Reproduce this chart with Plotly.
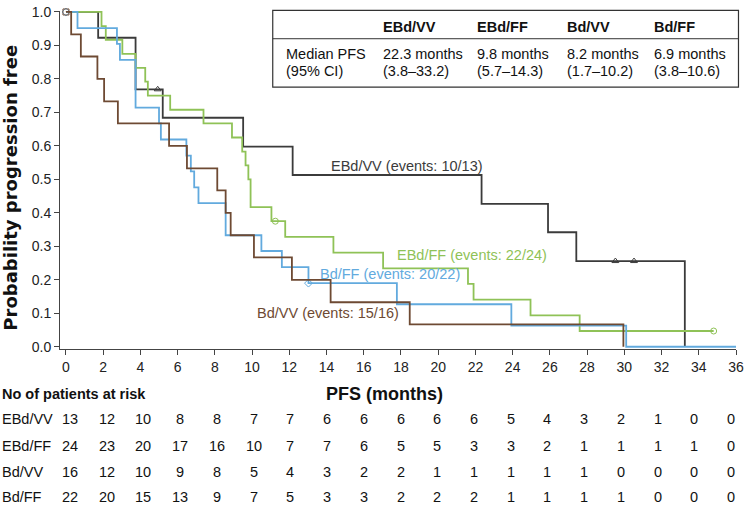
import plotly.graph_objects as go

# Kaplan-Meier steps (months, probability progression free)
ebd_vv_t = [0, 1.73, 3.74, 5.2, 9.52, 12.18, 22.33, 25.9, 27.42, 33.25]
ebd_vv_s = [1.0, 0.923, 0.769, 0.684, 0.598, 0.513, 0.427, 0.342, 0.256, 0.0]
ebd_vv_cens_t = [4.93, 29.52, 30.52]
ebd_vv_cens_s = [0.769, 0.256, 0.256]

ebd_ff_t = [0, 1.91, 2.14, 3.03, 3.74, 4.26, 4.4, 5.6, 7.39, 8.92, 9.47, 9.65, 9.8, 9.92,
            11.04, 11.78, 14.37, 17.04, 21.6, 21.9, 24.96, 27.6, 34.8]
ebd_ff_s = [1.0, 0.958, 0.917, 0.875, 0.833, 0.792, 0.75, 0.708, 0.667, 0.625, 0.583, 0.542, 0.5, 0.417,
            0.375, 0.328, 0.281, 0.234, 0.188, 0.141, 0.094, 0.047, 0.047]
ebd_ff_cens_t = [11.25, 34.8]
ebd_ff_cens_s = [0.375, 0.047]

bd_vv_t = [0, 0.28, 0.8, 1.69, 2.05, 2.79, 5.54, 6.5, 8.13, 8.58, 8.85, 10.1, 12.14, 14.22, 18.47, 29.95]
bd_vv_s = [1.0, 0.933, 0.867, 0.8, 0.733, 0.667, 0.6, 0.533, 0.467, 0.4, 0.333, 0.267, 0.2, 0.133, 0.067, 0.0]
bd_vv_cens_t = [0]
bd_vv_cens_s = [1.0]

bd_ff_t = [0, 0.62, 2.74, 2.9, 3.74, 5.0, 5.1, 6.47, 6.71, 6.89, 7.12, 8.58, 10.5, 11.6, 13.03,
           17.78, 23.93, 30.1, 36]
bd_ff_s = [1.0, 0.952, 0.905, 0.857, 0.714, 0.667, 0.619, 0.571, 0.524, 0.476, 0.429, 0.333, 0.286, 0.238, 0.19,
           0.127, 0.063, 0.0, 0.0]
bd_ff_cens_t = [0, 13.03]
bd_ff_cens_s = [1.0, 0.19]

# numbers at risk
months = list(range(0, 37, 2))
risk_ebd_vv = [13, 12, 10, 8, 8, 7, 7, 6, 6, 6, 6, 6, 5, 4, 3, 2, 1, 0, 0]
risk_ebd_ff = [24, 23, 20, 17, 16, 10, 7, 7, 6, 5, 5, 3, 3, 2, 1, 1, 1, 1, 0]
risk_bd_vv = [16, 12, 10, 9, 8, 5, 4, 3, 2, 2, 1, 1, 1, 1, 1, 0, 0, 0, 0]
risk_bd_ff = [22, 20, 15, 13, 9, 7, 5, 3, 3, 2, 2, 2, 1, 1, 1, 1, 0, 0, 0]

groups = ['EBd/VV', 'EBd/FF', 'Bd/VV', 'Bd/FF']
median_pfs = ['22.3 months', '9.8 months', '8.2 months', '6.9 months']
median_ci = ['(3.8–33.2)', '(5.7–14.3)', '(1.7–10.2)', '(3.8–10.6)']
events = ['10/13', '22/24', '15/16', '20/22']

colours = {'EBd/VV': '#3b3b3b', 'EBd/FF': '#8fc257', 'Bd/VV': '#6e4a33', 'Bd/FF': '#62aade'}
symbols = {'EBd/VV': 'triangle-up-open', 'EBd/FF': 'circle-open', 'Bd/VV': 'square-open', 'Bd/FF': 'diamond-open'}

FONT = 'Liberation Sans, Arial, sans-serif'

# plot area in pixels, used to place text outside the axes
L, R, T, B = 60, 740, 4, 349


def px(x):
    return (x - L) / (R - L)


def py(y):
    return (B - y) / (B - T)


fig = go.Figure()

curves = [
    ('EBd/VV', ebd_vv_t, ebd_vv_s, ebd_vv_cens_t, ebd_vv_cens_s),
    ('EBd/FF', ebd_ff_t, ebd_ff_s, ebd_ff_cens_t, ebd_ff_cens_s),
    ('Bd/FF', bd_ff_t, bd_ff_s, bd_ff_cens_t, bd_ff_cens_s),
    ('Bd/VV', bd_vv_t, bd_vv_s, bd_vv_cens_t, bd_vv_cens_s),
]

for name, t, s, ct, cs in curves:
    fig.add_trace(go.Scatter(x=t, y=s, mode='lines', line=dict(color=colours[name], width=1.8, shape='hv'),
                             name=name, showlegend=False, cliponaxis=False))
    fig.add_trace(go.Scatter(x=ct, y=cs, mode='markers',
                             marker=dict(symbol=symbols[name], size=6, color=colours[name],
                                         line=dict(width=1, color=colours[name])),
                             showlegend=False, cliponaxis=False))

annotations = []

# curve labels
label_pos = {'EBd/VV': (331, 162), 'EBd/FF': (397, 253), 'Bd/FF': (320, 272), 'Bd/VV': (256, 312)}
for g, ev in zip(groups, events):
    x0, y0 = label_pos[g]
    annotations.append(dict(x=px(x0), y=py(y0), xref='paper', yref='paper', xanchor='left', yanchor='middle',
                            text=f'{g} (events: {ev})', showarrow=False,
                            font=dict(family=FONT, size=14.5, color=colours[g])))

# median PFS box
col_x = [383, 477, 568, 656]
for g, m, ci, cx in zip(groups, median_pfs, median_ci, col_x):
    annotations.append(dict(x=px(cx), y=py(20), xref='paper', yref='paper', xanchor='left', yanchor='middle',
                            text=f'<b>{g}</b>', showarrow=False, font=dict(family=FONT, size=14.5, color='#111')))
    annotations.append(dict(x=px(cx), y=py(48), xref='paper', yref='paper', xanchor='left', yanchor='middle',
                            text=m, showarrow=False, font=dict(family=FONT, size=14.5, color='#111')))
    annotations.append(dict(x=px(cx), y=py(65), xref='paper', yref='paper', xanchor='left', yanchor='middle',
                            text=ci, showarrow=False, font=dict(family=FONT, size=14.5, color='#111')))
annotations.append(dict(x=px(285), y=py(48), xref='paper', yref='paper', xanchor='left', yanchor='middle',
                        text='Median PFS', showarrow=False, font=dict(family=FONT, size=14.5, color='#111')))
annotations.append(dict(x=px(285), y=py(65), xref='paper', yref='paper', xanchor='left', yanchor='middle',
                        text='(95% CI)', showarrow=False, font=dict(family=FONT, size=14.5, color='#111')))

# axis titles
annotations.append(dict(x=px(10), y=py(184), xref='paper', yref='paper', xanchor='center', yanchor='middle',
                        text='<b>Probability progression free</b>', textangle=-90, showarrow=False,
                        font=dict(family='DejaVu Sans', size=18, color='#111')))
annotations.append(dict(x=px(386), y=py(395), xref='paper', yref='paper', xanchor='center', yanchor='middle',
                        text='<b>PFS (months)</b>', showarrow=False, font=dict(family=FONT, size=18, color='#111')))

# numbers at risk
annotations.append(dict(x=px(0), y=py(395), xref='paper', yref='paper', xanchor='left', yanchor='middle',
                        text='<b>No of patients at risk</b>', showarrow=False,
                        font=dict(family=FONT, size=14.5, color='#111')))
risk_rows = [('EBd/VV', risk_ebd_vv, 420), ('EBd/FF', risk_ebd_ff, 448),
             ('Bd/VV', risk_bd_vv, 475), ('Bd/FF', risk_bd_ff, 500)]
for g, counts, row_y in risk_rows:
    annotations.append(dict(x=px(0), y=py(row_y), xref='paper', yref='paper', xanchor='left', yanchor='middle',
                            text=g, showarrow=False, font=dict(family=FONT, size=14.5, color='#111')))
    for m, c in zip(months, counts):
        annotations.append(dict(x=0.21 + 0.987 * m, y=py(row_y), xref='x', yref='paper', xanchor='center',
                                yanchor='middle', text=str(c), showarrow=False,
                                font=dict(family=FONT, size=14.5, color='#111')))

shapes = [
    dict(type='rect', xref='paper', yref='paper', x0=px(274), x1=px(742.5), y0=py(81.7), y1=py(3.3),
         line=dict(color='#333', width=1.2), fillcolor='white', layer='below'),
    dict(type='line', xref='paper', yref='paper', x0=px(274), x1=px(742.5), y0=py(32.3), y1=py(32.3),
         line=dict(color='#333', width=1)),
]

fig.update_xaxes(range=[-0.32, 36], tickmode='array', tickvals=months, ticks='outside', ticklen=5,
                 tickcolor='#444', showline=True, linecolor='#444', linewidth=1, showgrid=False, zeroline=False,
                 ticklabeloverflow='allow', tickfont=dict(family=FONT, size=14, color='#222'))
fig.update_yaxes(range=[-0.0067, 1.0029], tickmode='array', tickvals=[i / 10 for i in range(11)],
                 tickformat='.1f', ticks='outside', ticklen=5, tickcolor='#444', showline=True, linecolor='#444',
                 linewidth=1, showgrid=False, zeroline=False, ticklabeloverflow='allow',
                 tickfont=dict(family=FONT, size=14, color='#222'))

fig.update_layout(width=748, height=508,
                  margin=dict(l=L, r=748 - R, t=T, b=508 - B),
                  plot_bgcolor='white', paper_bgcolor='white',
                  annotations=annotations, shapes=shapes, showlegend=False)

# the page's default body margin would shift the figure by 8px
fig.write_html('out.html', config={'displayModeBar': False},
               post_script="document.body.style.margin='0';")
